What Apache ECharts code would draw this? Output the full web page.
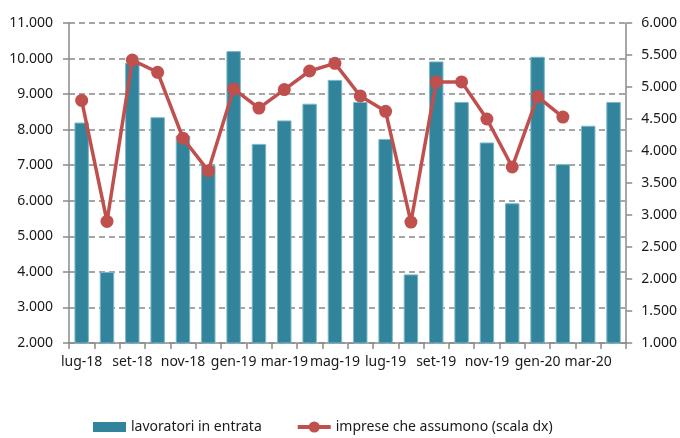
<!DOCTYPE html>
<html>
<head>
<meta charset="utf-8">
<script src="https://cdn.jsdelivr.net/npm/echarts@6/dist/echarts.min.js"></script>
<style>
  html, body { margin: 0; padding: 0; background: #fff; }
  #main { width: 680px; height: 438px; }
</style>
</head>
<body>
<div id="main"></div>
<script>
    "use strict";

    // months lug-18 .. apr-20
    var months = ['lug-18', 'ago-18', 'set-18', 'ott-18', 'nov-18', 'dic-18',
        'gen-19', 'feb-19', 'mar-19', 'apr-19', 'mag-19', 'giu-19',
        'lug-19', 'ago-19', 'set-19', 'ott-19', 'nov-19', 'dic-19',
        'gen-20', 'feb-20', 'mar-20', 'apr-20'];

    // lavoratori in entrata (left scale)
    var lavoratori = [8200, 4000, 9880, 8350, 7830, 7000,
        10210, 7600, 8260, 8730, 9400, 8780,
        7740, 3930, 9920, 8780, 7640, 5930,
        10050, 7030, 8110, 8780];

    // imprese che assumono (right scale), no data for mar/apr 2020
    var imprese = [4790, 2900, 5420, 5230, 4200, 3690,
        4970, 4670, 4960, 5250, 5370, 4860,
        4620, 2890, 5080, 5080, 4500, 3750,
        4850, 4530, '-', '-'];

    var leftTicks = { min: 2000, max: 11000, interval: 1000 };
    var rightTicks = { min: 1000, max: 6000, interval: 500 };

    var FONT = '"Noto Sans", sans-serif';
    var TEXT = '#1a1a1a';
    var AXIS = '#8a8a8a';
    var TEAL = '#31849B';
    var RED = '#C0504D';

    function fmt(v) {
        // italian thousands separator
        return String(v).replace(/\B(?=(\d{3})+(?!\d))/g, '.');
    }

    var chart = echarts.init(document.getElementById('main'));

    var option = {
        animation: false,
        backgroundColor: '#ffffff',
        grid: {
            left: 69,
            right: 53,
            top: 23,
            bottom: 95,
            containLabel: false
        },
        legend: {
            left: 88,
            top: 415,
            itemWidth: 33,
            itemHeight: 14,
            itemGap: 34,
            textStyle: { fontFamily: FONT, fontSize: 14, color: TEXT },
            data: [
                {
                    name: 'lavoratori in entrata',
                    // flat box, padded so it stays 10px tall inside a 14px slot
                    icon: 'path://M0,0L0,0ZM0,2L33,2L33,12L0,12ZM33,14L33,14Z',
                    itemStyle: { color: TEAL, borderWidth: 0 }
                },
                {
                    name: 'imprese che assumono (scala dx)',
                    lineStyle: { width: 4, color: RED }
                }
            ]
        },
        xAxis: {
            type: 'category',
            data: months,
            boundaryGap: true,
            axisLine: { lineStyle: { color: AXIS, width: 1.5 } },
            axisTick: { show: true, length: 6, interval: 0, lineStyle: { color: AXIS, width: 1.5 } },
            axisLabel: {
                interval: 1,
                margin: 12,
                fontFamily: FONT,
                fontSize: 14,
                color: TEXT
            },
            splitLine: { show: false }
        },
        yAxis: [{
            type: 'value',
            position: 'left',
            min: leftTicks.min,
            max: leftTicks.max,
            interval: leftTicks.interval,
            axisLine: { show: true, lineStyle: { color: AXIS, width: 1.5 } },
            axisTick: { show: true, length: 6, lineStyle: { color: AXIS, width: 1.5 } },
            axisLabel: {
                margin: 16,
                fontFamily: FONT,
                fontSize: 14,
                color: TEXT,
                formatter: fmt
            },
            splitLine: {
                show: true,
                lineStyle: { color: '#888888', width: 1.5, type: [6, 4] }
            }
        }, {
            type: 'value',
            position: 'right',
            min: rightTicks.min,
            max: rightTicks.max,
            interval: rightTicks.interval,
            axisLine: { show: true, lineStyle: { color: AXIS, width: 1.5 } },
            axisTick: { show: true, length: 6, lineStyle: { color: AXIS, width: 1.5 } },
            axisLabel: {
                margin: 15,
                fontFamily: FONT,
                fontSize: 14,
                color: TEXT,
                formatter: fmt
            },
            splitLine: { show: false }
        }],
        series: [{
            name: 'lavoratori in entrata',
            type: 'bar',
            yAxisIndex: 0,
            barCategoryGap: '43%',
            itemStyle: { color: TEAL, borderColor: '#7db7c6', borderWidth: 1 },
            data: lavoratori
        }, {
            name: 'imprese che assumono (scala dx)',
            type: 'line',
            yAxisIndex: 1,
            symbol: 'circle',
            symbolSize: 13,
            connectNulls: false,
            lineStyle: { color: RED, width: 3.5 },
            itemStyle: { color: RED },
            data: imprese
        }]
    };

    chart.setOption(option);
</script>
</body>
</html>
